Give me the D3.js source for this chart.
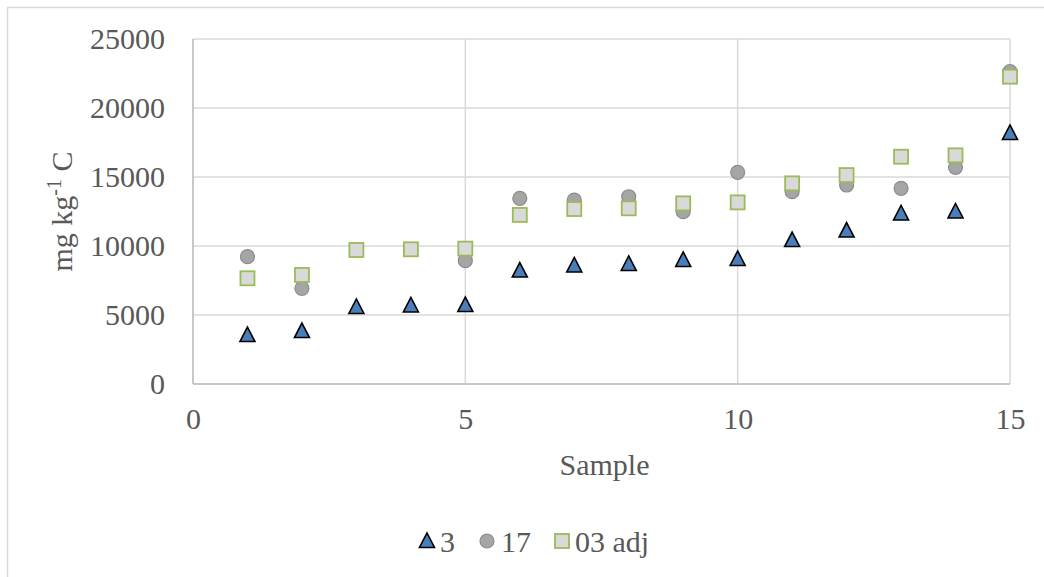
<!DOCTYPE html>
<html>
<head>
<meta charset="utf-8">
<script src="https://cdn.jsdelivr.net/npm/d3@7/dist/d3.min.js"></script>
<style>
  html, body { margin: 0; padding: 0; background: #fff; }
  svg { display: block; font-family: "Liberation Serif", "Times New Roman", Tinos, "DejaVu Serif", serif; }
  svg text { font-family: "Liberation Serif", "Times New Roman", Tinos, "DejaVu Serif", serif !important; fill: #595959; }
</style>
</head>
<body>
<svg id="chart" width="1044" height="577"></svg>
<script>
const samples = [1, 2, 3, 4, 5, 6, 7, 8, 9, 10, 11, 12, 13, 14, 15];
const series3 = [3550, 3840, 5580, 5690, 5720, 8220, 8590, 8700, 8990, 9060, 10430, 11120, 12360, 12500, 18190];
const series17 = [9230, 6930, 9700, 9750, 8940, 13450, 13330, 13570, 12490, 15340, 13940, 14420, 14180, 15700, 22630];
const series03adj = [7660, 7900, 9710, 9760, 9810, 12250, 12680, 12730, 13090, 13160, 14540, 15140, 16470, 16570, 22270];
const xTicks = [0, 5, 10, 15];
const yTicks = [0, 5000, 10000, 15000, 20000, 25000];
const seriesNames = ["3", "17", "03 adj"];

const svg = d3.select("#chart");
const plot = { left: 193, right: 1010, top: 39, bottom: 384 };

// outer chart border
svg.append("rect").attr("x", 7.5).attr("y", 7.5).attr("width", 1100).attr("height", 700)
  .attr("fill", "none").attr("stroke", "#d9d9d9").attr("stroke-width", 1.5);

const x = d3.scaleLinear().domain([0, 15]).range([plot.left, plot.right]);
const y = d3.scaleLinear().domain([0, 25000]).range([plot.bottom, plot.top]);

// gridlines
svg.append("g").selectAll("line").data(yTicks).join("line")
  .attr("x1", plot.left).attr("x2", plot.right)
  .attr("y1", d => y(d)).attr("y2", d => y(d))
  .attr("stroke", "#d9d9d9").attr("stroke-width", 1.5);
svg.append("g").selectAll("line").data(xTicks).join("line")
  .attr("y1", plot.top).attr("y2", plot.bottom)
  .attr("x1", d => x(d)).attr("x2", d => x(d))
  .attr("stroke", "#d9d9d9").attr("stroke-width", 1.5);

// axes lines
svg.append("line").attr("x1", plot.left).attr("x2", plot.right).attr("y1", plot.bottom).attr("y2", plot.bottom)
  .attr("stroke", "#bfbfbf").attr("stroke-width", 1.5);
svg.append("line").attr("x1", plot.left).attr("x2", plot.left).attr("y1", plot.top).attr("y2", plot.bottom)
  .attr("stroke", "#bfbfbf").attr("stroke-width", 1.5);

// axes labels via d3 axes
const yAxis = d3.axisLeft(y).tickValues(yTicks).tickSize(0).tickPadding(28).tickFormat(d3.format("d"));
const gy = svg.append("g").attr("transform", `translate(${plot.left},0)`).call(yAxis);
gy.attr("font-family", null).attr("font-size", null);
gy.select(".domain").remove();
gy.selectAll("text").style("font-size", "30px").attr("fill", "#595959");

const xAxis = d3.axisBottom(x).tickValues(xTicks).tickSize(0).tickPadding(24).tickFormat(d3.format("d"));
const gx = svg.append("g").attr("transform", `translate(0,${plot.bottom})`).call(xAxis);
gx.attr("font-family", null).attr("font-size", null);
gx.select(".domain").remove();
gx.selectAll("text").style("font-size", "30px").attr("fill", "#595959");

// axis titles
svg.append("text").attr("x", (plot.left + plot.right) / 2 + 3).attr("y", 475)
  .attr("text-anchor", "middle").style("font-size", "30px").text("Sample");

const yt = svg.append("text").attr("transform", `translate(72,${(plot.top + plot.bottom) / 2}) rotate(-90)`)
  .attr("text-anchor", "middle").style("font-size", "30px");
yt.append("tspan").text("mg kg");
yt.append("tspan").attr("dy", -11).style("font-size", "20px").text("-1");
yt.append("tspan").attr("dy", 11).text(" C");

// markers
const triPath = "M0,-8 L7.5,6.5 L-7.5,6.5 Z";
function drawTri(g, cx, cy) {
  g.append("path").attr("d", triPath).attr("transform", `translate(${cx},${cy})`)
    .attr("fill", "#4a7ebb").attr("stroke", "#000").attr("stroke-width", 1.6);
}
function drawCircle(g, cx, cy) {
  g.append("circle").attr("cx", cx).attr("cy", cy).attr("r", 7)
    .attr("fill", "#a5a5a5").attr("stroke", "#8c8c8c").attr("stroke-width", 1.2);
}
function drawSquare(g, cx, cy) {
  g.append("rect").attr("x", cx - 7).attr("y", cy - 7).attr("width", 14).attr("height", 14)
    .attr("fill", "#d9d9d9").attr("stroke", "#9bbb59").attr("stroke-width", 1.8);
}

const marks = svg.append("g");
samples.forEach((s, i) => drawTri(marks, x(s), y(series3[i])));
samples.forEach((s, i) => drawCircle(marks, x(s), y(series17[i])));
samples.forEach((s, i) => drawSquare(marks, x(s), y(series03adj[i])));

// legend
const leg = svg.append("g");
const legY = 541;
const legItems = [
  { name: seriesNames[0], mx: 427, tx: 440, draw: drawTri },
  { name: seriesNames[1], mx: 487, tx: 501, draw: drawCircle },
  { name: seriesNames[2], mx: 562, tx: 575, draw: drawSquare }
];
legItems.forEach(it => {
  it.draw(leg, it.mx, legY);
  leg.append("text").attr("x", it.tx).attr("y", legY + 11).style("font-size", "30px").text(it.name);
});
</script>
</body>
</html>
